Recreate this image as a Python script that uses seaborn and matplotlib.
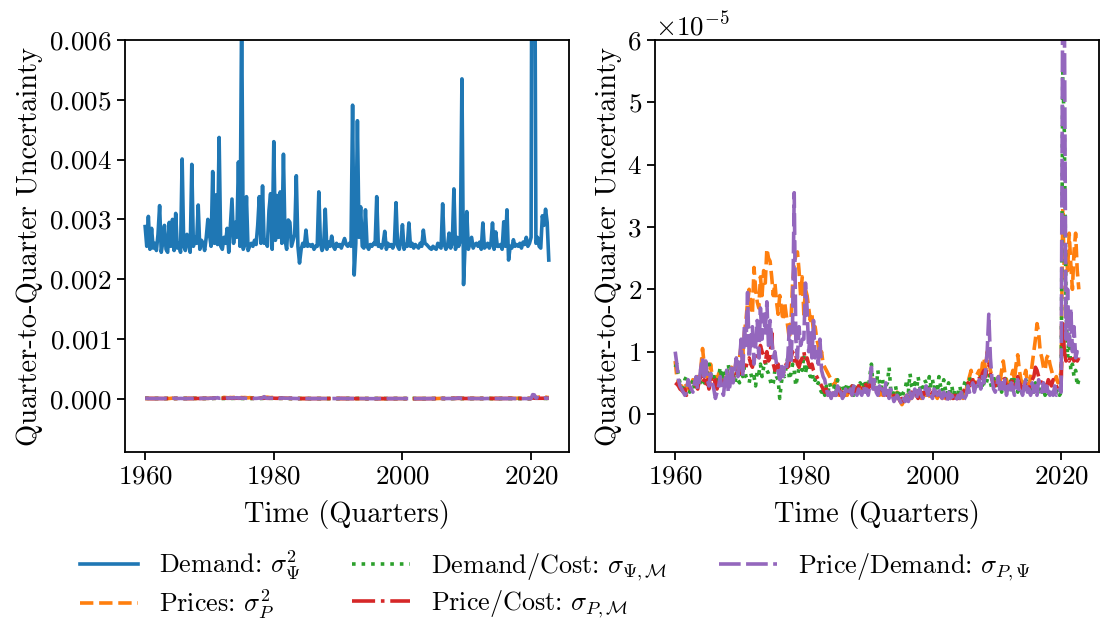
import numpy as np
import matplotlib
matplotlib.use("Agg")
import matplotlib.pyplot as plt
import seaborn as sns

# Quarterly uncertainty estimates, 1960Q1 - 2022Q4
start_year = 1960
n_years = 63

# Demand variance (units of 1e-3)
demand = [
    2.88, 2.55, 3.05, 2.50,  2.85, 2.52, 2.60, 2.48,  2.75, 3.23, 2.45, 2.62,
    2.90, 2.50, 2.45, 2.95,  2.55, 3.00, 2.48, 3.10,  2.52, 2.60, 2.45, 4.01,
    2.55, 2.48, 2.75, 2.60,  2.45, 3.92, 2.55, 2.70,  2.60, 3.24, 2.50, 2.65,
    2.60, 2.48, 2.70, 3.00,  2.75, 2.55, 3.80, 2.60,  3.41, 2.58, 4.37, 2.55,
    2.50, 2.70, 2.60, 2.85,  2.45, 2.90, 3.34, 2.60,  2.95, 2.70, 3.96, 2.55,
    6.50, 2.50, 2.58, 3.38,  2.48, 2.55, 2.60, 2.55,  2.65, 2.58, 2.90, 3.38,
    2.60, 3.56, 2.60, 2.65,  2.55, 3.15, 3.43, 2.50,  4.30, 2.65, 3.40, 2.70,
    3.46, 2.60, 4.09, 2.65,  2.50, 2.99, 2.95, 2.55,  2.65, 2.75, 3.73, 2.55,
    2.27, 2.50, 2.60, 2.55,  2.82, 2.55, 2.58, 2.55,  2.58, 2.50, 2.55, 2.55,
    3.46, 2.60, 2.48, 2.55,  3.17, 2.50, 2.62, 2.55,  2.72, 2.55, 2.50, 2.60,
    2.55, 2.58, 2.52, 2.60,  2.68, 2.58, 2.55, 2.60,  2.55, 4.91, 2.07, 2.60,
    4.65, 2.70, 3.21, 2.55,  2.52, 3.16, 2.55, 2.50,  2.58, 2.55, 2.60, 2.58,
    3.38, 2.55, 2.58, 2.52,  2.60, 2.80, 2.50, 2.60,  2.55, 2.58, 2.52, 2.60,
    3.28, 2.55, 2.50, 2.62,  2.91, 2.50, 2.58, 2.55,  2.94, 2.55, 2.60, 2.52,
    2.58, 2.55, 2.52, 2.60,  2.55, 2.82, 2.60, 2.58,  2.55, 2.52, 2.50, 2.55,
    2.52, 2.50, 2.60, 2.55,  2.52, 3.26, 2.58, 2.50,  2.55, 2.77, 2.52, 2.60,
    3.51, 2.50, 2.70, 2.55,  2.65, 5.35, 1.91, 2.60,  3.13, 2.50, 2.60, 2.70,
    2.52, 2.58, 2.60, 2.55,  2.62, 2.50, 2.94, 2.52,  2.55, 2.60, 2.52, 2.58,
    2.94, 2.50, 2.79, 2.55,  2.55, 2.58, 2.50, 2.96,  2.55, 3.16, 2.32, 2.55,
    2.52, 2.66, 2.55, 2.58,  2.55, 2.60, 2.52, 2.62,  2.58, 2.70, 2.55, 2.60,
    2.70, 14.0, 10.0, 2.60,  2.70, 2.55, 2.52, 3.06,  2.90, 3.17, 2.95, 2.32,
]

# Price variance (units of 1e-5)
prices = [
    0.85, 0.60, 0.50, 0.45,  0.45, 0.40, 0.50, 0.45,  0.40, 0.50, 0.45, 0.55,
    0.50, 0.45, 0.60, 0.50,  0.75, 1.05, 0.80, 0.60,  0.70, 0.55, 0.80, 0.60,
    0.55, 0.60, 0.50, 0.65,  0.45, 0.55, 0.50, 0.60,  0.70, 0.55, 0.65, 0.75,
    0.60, 0.70, 0.85, 0.65,  0.90, 1.10, 0.95, 1.30,  1.50, 1.80, 2.00, 1.70,
    1.60, 2.35, 2.00, 1.80,  1.70, 2.20, 1.90, 2.30,  2.10, 2.65, 2.50, 2.45,
    2.20, 1.90, 2.10, 1.80,  1.60, 1.90, 1.70, 1.50,  1.80, 1.60, 1.40, 1.20,
    1.50, 2.10, 2.40, 2.55,  2.60, 2.30, 1.90, 2.20,  1.60, 2.00, 1.90, 1.70,
    1.50, 1.60, 1.30, 1.40,  1.20, 1.10, 0.90, 1.00,  0.80, 0.75, 0.70, 0.65,
    0.60, 0.55, 0.50, 0.45,  0.55, 0.35, 0.30, 0.35,  0.30, 0.25, 0.35, 0.30,
    0.40, 0.35, 0.30, 0.40,  0.35, 0.40, 0.45, 0.35,  0.40, 0.45, 0.50, 0.40,
    0.45, 0.50, 0.60, 0.45,  0.40, 0.35, 0.40, 0.30,  0.35, 0.30, 0.40, 0.35,
    0.30, 0.35, 0.40, 0.30,  0.25, 0.30, 0.35, 0.25,  0.20, 0.15, 0.20, 0.25,
    0.25, 0.20, 0.30, 0.25,  0.30, 0.25, 0.30, 0.35,  0.30, 0.25, 0.35, 0.30,
    0.30, 0.35, 0.30, 0.25,  0.30, 0.35, 0.30, 0.25,  0.35, 0.30, 0.25, 0.30,
    0.25, 0.30, 0.35, 0.25,  0.30, 0.25, 0.20, 0.30,  0.25, 0.30, 0.35, 0.25,
    0.30, 0.40, 0.50, 0.60,  0.70, 0.55, 0.45, 0.60,  0.65, 0.70, 0.55, 0.80,
    0.90, 0.70, 1.00, 0.85,  0.70, 0.60, 0.55, 0.50,  0.55, 0.60, 0.50, 0.70,
    0.85, 0.65, 0.55, 0.45,  0.50, 0.60, 0.70, 0.55,  0.80, 0.95, 0.70, 0.55,
    0.50, 0.60, 0.70, 0.50,  0.45, 0.60, 0.80, 1.00,  1.20, 1.45, 1.30, 1.00,
    0.90, 0.75, 0.70, 0.90,  0.95, 0.80, 0.70, 0.60,  0.55, 0.60, 0.50, 0.55,
    0.70, 3.30, 2.20, 2.60,  2.30, 2.90, 2.40, 2.00,  2.60, 2.90, 2.30, 2.00,
]

# Demand/Cost covariance (units of 1e-5)
demand_cost = [
    0.75, 0.80, 0.60, 0.50,  0.45, 0.40, 0.55, 0.60,  0.50, 0.35, 0.45, 0.55,
    0.40, 0.50, 0.60, 0.45,  0.55, 0.65, 0.50, 0.60,  0.70, 0.80, 0.65, 0.55,
    0.60, 0.55, 0.50, 0.60,  0.75, 0.55, 0.70, 0.60,  0.65, 0.80, 0.60, 0.55,
    0.70, 0.50, 0.60, 0.55,  0.50, 0.70, 0.60, 0.75,  0.60, 0.55, 0.50, 0.65,
    0.55, 0.60, 0.45, 0.70,  0.65, 0.80, 0.60, 0.75,  0.85, 0.70, 0.65, 0.55,
    0.45, 0.50, 0.70, 0.60,  0.55, 0.25, 0.50, 0.65,  0.60, 0.75, 0.90, 0.55,
    0.65, 0.80, 0.70, 0.45,  0.60, 0.75, 0.85, 0.70,  0.95, 0.65, 0.80, 0.70,
    0.60, 0.75, 0.50, 0.55,  0.45, 0.50, 0.40, 0.35,  0.40, 0.30, 0.45, 0.35,
    0.50, 0.40, 0.30, 0.45,  0.35, 0.55, 0.40, 0.30,  0.45, 0.35, 0.40, 0.50,
    0.40, 0.35, 0.45, 0.30,  0.40, 0.45, 0.35, 0.50,  0.45, 0.40, 0.55, 0.35,
    0.40, 0.60, 0.80, 0.45,  0.55, 0.40, 0.70, 0.50,  0.40, 0.55, 0.35, 0.45,
    0.50, 0.75, 0.40, 0.30,  0.35, 0.45, 0.30, 0.40,  0.30, 0.25, 0.35, 0.40,
    0.55, 0.35, 0.65, 0.45,  0.40, 0.50, 0.35, 0.60,  0.45, 0.35, 0.40, 0.55,
    0.50, 0.40, 0.60, 0.45,  0.55, 0.40, 0.50, 0.35,  0.60, 0.45, 0.35, 0.55,
    0.40, 0.30, 0.50, 0.35,  0.45, 0.30, 0.40, 0.25,  0.35, 0.45, 0.30, 0.40,
    0.50, 0.55, 0.40, 0.60,  0.45, 0.55, 0.40, 0.50,  0.55, 0.45, 0.60, 0.40,
    0.50, 0.45, 0.55, 0.65,  0.50, 0.40, 0.60, 0.45,  0.55, 0.40, 0.50, 0.35,
    0.45, 0.60, 0.40, 0.50,  0.35, 0.55, 0.40, 0.60,  0.45, 0.35, 0.50, 0.40,
    0.30, 0.45, 0.55, 0.35,  0.40, 0.30, 0.45, 0.35,  0.50, 0.40, 0.30, 0.45,
    0.35, 0.40, 0.30, 0.35,  0.30, 0.40, 0.25, 0.35,  0.30, 0.35, 0.40, 0.30,
    0.35, 5.50, 4.50, 1.80,  0.90, 1.30, 0.70, 0.80,  0.60, 0.70, 0.45, 0.55,
]

# Price/Cost covariance (units of 1e-5)
price_cost = [
    0.50, 0.48, 0.45, 0.40,  0.38, 0.35, 0.40, 0.30,  0.35, 0.42, 0.40, 0.45,
    0.50, 0.45, 0.40, 0.55,  0.60, 0.50, 0.55, 0.45,  0.55, 0.40, 0.60, 0.50,
    0.45, 0.55, 0.40, 0.50,  0.45, 0.60, 0.55, 0.50,  0.55, 0.60, 0.50, 0.65,
    0.60, 0.55, 0.65, 0.70,  0.65, 0.75, 0.70, 0.80,  0.75, 0.85, 0.90, 0.80,
    0.75, 0.90, 1.00, 0.85,  0.90, 1.10, 1.00, 0.95,  0.80, 1.00, 0.85, 0.90,
    1.30, 0.80, 0.70, 0.75,  0.80, 0.70, 0.75, 0.65,  0.70, 0.80, 0.75, 0.85,
    0.90, 1.00, 0.85, 0.95,  0.80, 0.75, 0.85, 0.90,  1.00, 0.85, 0.90, 0.80,
    0.75, 0.80, 0.70, 0.65,  0.60, 0.55, 0.50, 0.45,  0.40, 0.35, 0.40, 0.30,
    0.35, 0.40, 0.30, 0.35,  0.30, 0.35, 0.40, 0.30,  0.35, 0.30, 0.35, 0.40,
    0.35, 0.40, 0.45, 0.35,  0.40, 0.35, 0.45, 0.40,  0.45, 0.40, 0.50, 0.45,
    0.40, 0.45, 0.55, 0.50,  0.45, 0.40, 0.35, 0.40,  0.35, 0.40, 0.30, 0.35,
    0.30, 0.35, 0.30, 0.25,  0.30, 0.25, 0.30, 0.25,  0.20, 0.25, 0.20, 0.25,
    0.30, 0.25, 0.30, 0.35,  0.30, 0.35, 0.30, 0.25,  0.30, 0.35, 0.30, 0.35,
    0.30, 0.35, 0.40, 0.30,  0.35, 0.30, 0.35, 0.30,  0.35, 0.30, 0.25, 0.30,
    0.30, 0.25, 0.30, 0.25,  0.30, 0.25, 0.30, 0.25,  0.30, 0.25, 0.30, 0.35,
    0.40, 0.45, 0.50, 0.45,  0.50, 0.55, 0.45, 0.50,  0.55, 0.60, 0.50, 0.65,
    0.70, 0.60, 0.75, 0.80,  0.65, 0.55, 0.50, 0.45,  0.50, 0.55, 0.45, 0.50,
    0.60, 0.55, 0.45, 0.40,  0.45, 0.50, 0.55, 0.45,  0.55, 0.60, 0.50, 0.45,
    0.40, 0.45, 0.50, 0.45,  0.40, 0.50, 0.55, 0.60,  0.75, 0.70, 0.60, 0.55,
    0.50, 0.55, 0.50, 0.45,  0.55, 0.50, 0.45, 0.55,  0.50, 0.45, 0.40, 0.45,
    0.50, 1.45, 1.00, 0.85,  0.90, 0.85, 0.95, 0.90,  0.85, 0.90, 0.85, 0.90,
]

# Price/Demand covariance (units of 1e-5)
price_demand = [
    1.00, 0.80, 0.55, 0.45,  0.40, 0.35, 0.30, 0.35,  0.55, 0.45, 0.40, 0.35,
    0.50, 0.60, 0.40, 0.55,  0.75, 0.90, 0.60, 0.85,  0.55, 0.45, 0.65, 0.50,
    0.40, 0.25, 0.35, 0.45,  0.60, 0.40, 0.30, 0.55,  0.70, 0.35, 0.45, 0.80,
    0.50, 0.70, 0.90, 0.60,  0.85, 1.20, 0.60, 1.40,  1.10, 1.95, 0.90, 1.20,
    1.40, 0.80, 1.10, 1.50,  0.90, 1.70, 1.20, 1.60,  1.30, 1.80, 1.10, 1.50,
    1.20, 0.90, 1.00, 0.80,  0.70, 0.55, 0.80, 0.60,  0.75, 0.70, 0.90, 1.40,
    0.80, 1.50, 3.55, 1.20,  0.90, 1.40, 1.10, 1.20,  1.20, 2.10, 1.70, 1.00,
    1.30, 0.90, 1.50, 0.90,  1.00, 0.80, 1.20, 0.70,  0.60, 0.55, 0.40, 0.30,
    0.35, 0.25, 0.40, 0.30,  0.30, 0.45, 0.30, 0.35,  0.25, 0.30, 0.40, 0.30,
    0.35, 0.40, 0.30, 0.45,  0.35, 0.30, 0.40, 0.35,  0.30, 0.45, 0.35, 0.40,
    0.30, 0.45, 0.75, 0.40,  0.55, 0.35, 0.30, 0.45,  0.35, 0.40, 0.30, 0.50,
    0.35, 0.25, 0.40, 0.30,  0.20, 0.25, 0.30, 0.25,  0.20, 0.15, 0.25, 0.20,
    0.30, 0.20, 0.35, 0.25,  0.30, 0.40, 0.25, 0.35,  0.40, 0.30, 0.25, 0.35,
    0.45, 0.30, 0.40, 0.30,  0.25, 0.40, 0.35, 0.30,  0.40, 0.30, 0.25, 0.35,
    0.30, 0.20, 0.35, 0.25,  0.30, 0.25, 0.20, 0.25,  0.30, 0.25, 0.35, 0.20,
    0.25, 0.30, 0.45, 0.35,  0.40, 0.50, 0.35, 0.45,  0.40, 0.55, 0.40, 0.60,
    0.50, 0.70, 1.00, 1.60,  0.90, 0.55, 0.40, 0.35,  0.45, 0.60, 0.35, 0.50,
    0.40, 0.55, 0.30, 0.45,  0.35, 0.50, 0.40, 0.30,  0.45, 0.55, 0.35, 0.40,
    0.30, 0.45, 0.55, 0.35,  0.40, 0.30, 0.50, 0.35,  0.45, 0.30, 0.55, 0.40,
    0.35, 0.50, 0.30, 0.45,  0.35, 0.30, 0.40, 0.30,  0.45, 0.30, 0.35, 0.40,
    0.35, 7.00, 6.50, 1.20,  2.00, 1.10, 1.70, 1.00,  1.40, 0.90, 1.00, 0.90,
]

quarters = start_year + np.arange(4 * n_years) / 4

demand = np.array(demand) * 1e-3
prices = np.array(prices) * 1e-5
demand_cost = np.array(demand_cost) * 1e-5
price_cost = np.array(price_cost) * 1e-5
price_demand = np.array(price_demand) * 1e-5

# Style (LaTeX-like Computer Modern look)
plt.rcParams["font.family"] = ["cmr10"]
plt.rcParams["mathtext.fontset"] = "cm"
plt.rcParams["axes.formatter.use_mathtext"] = True
plt.rcParams["axes.unicode_minus"] = False
fs = 19.5
lab_fs = 20.5
leg_fs = 18.8

pal = sns.color_palette("tab10")
series = [
    ("Prices: $\\sigma^2_P$", prices, pal[1], "--"),
    ("Demand/Cost: $\\sigma_{\\Psi,\\mathcal{M}}$", demand_cost, pal[2], ":"),
    ("Price/Cost: $\\sigma_{P,\\mathcal{M}}$", price_cost, pal[3], "-."),
    ("Price/Demand: $\\sigma_{P,\\Psi}$", price_demand, pal[4], (0, (6, 1.5))),
]

fig = plt.figure(figsize=(11.02, 6.22), dpi=100)
ax1 = fig.add_axes([0.1134, 0.2733, 0.4029, 0.6624])
ax2 = fig.add_axes([0.5944, 0.2733, 0.4029, 0.6624])

lw = 2.6
sns.lineplot(x=quarters, y=demand, ax=ax1, color=pal[0], lw=lw,
             label="Demand: $\\sigma^2_\\Psi$")
for label, vals, col, ls in series:
    sns.lineplot(x=quarters, y=vals, ax=ax1, color=col, lw=lw, linestyle=ls, label=label)
    sns.lineplot(x=quarters, y=vals, ax=ax2, color=col, lw=lw, linestyle=ls)

ax1.set_ylim(-0.00089, 0.006)
ax2.set_ylim(-0.61e-5, 6e-5)

for ax in (ax1, ax2):
    ax.set_xticks([1960, 1980, 2000, 2020])
    ax.set_xlabel("Time (Quarters)", fontsize=lab_fs, labelpad=8)
    ax.set_ylabel("Quarter-to-Quarter Uncertainty", fontsize=lab_fs, labelpad=4)
    ax.tick_params(labelsize=fs, length=6, width=1.3)
    for sp in ax.spines.values():
        sp.set_linewidth(1.3)
    ax.yaxis.get_offset_text().set_fontsize(fs)

ax1.set_yticks([0, 0.001, 0.002, 0.003, 0.004, 0.005, 0.006])

# Legend under both panels
handles, labels = ax1.get_legend_handles_labels()
ax1.get_legend().remove()
fig.legend(handles, labels, loc="center", bbox_to_anchor=(0.504, 0.060), ncol=3,
           frameon=False, fontsize=leg_fs, handlelength=2.2, columnspacing=2.0,
           labelspacing=0.2)

plt.savefig("out.png", dpi=100)
